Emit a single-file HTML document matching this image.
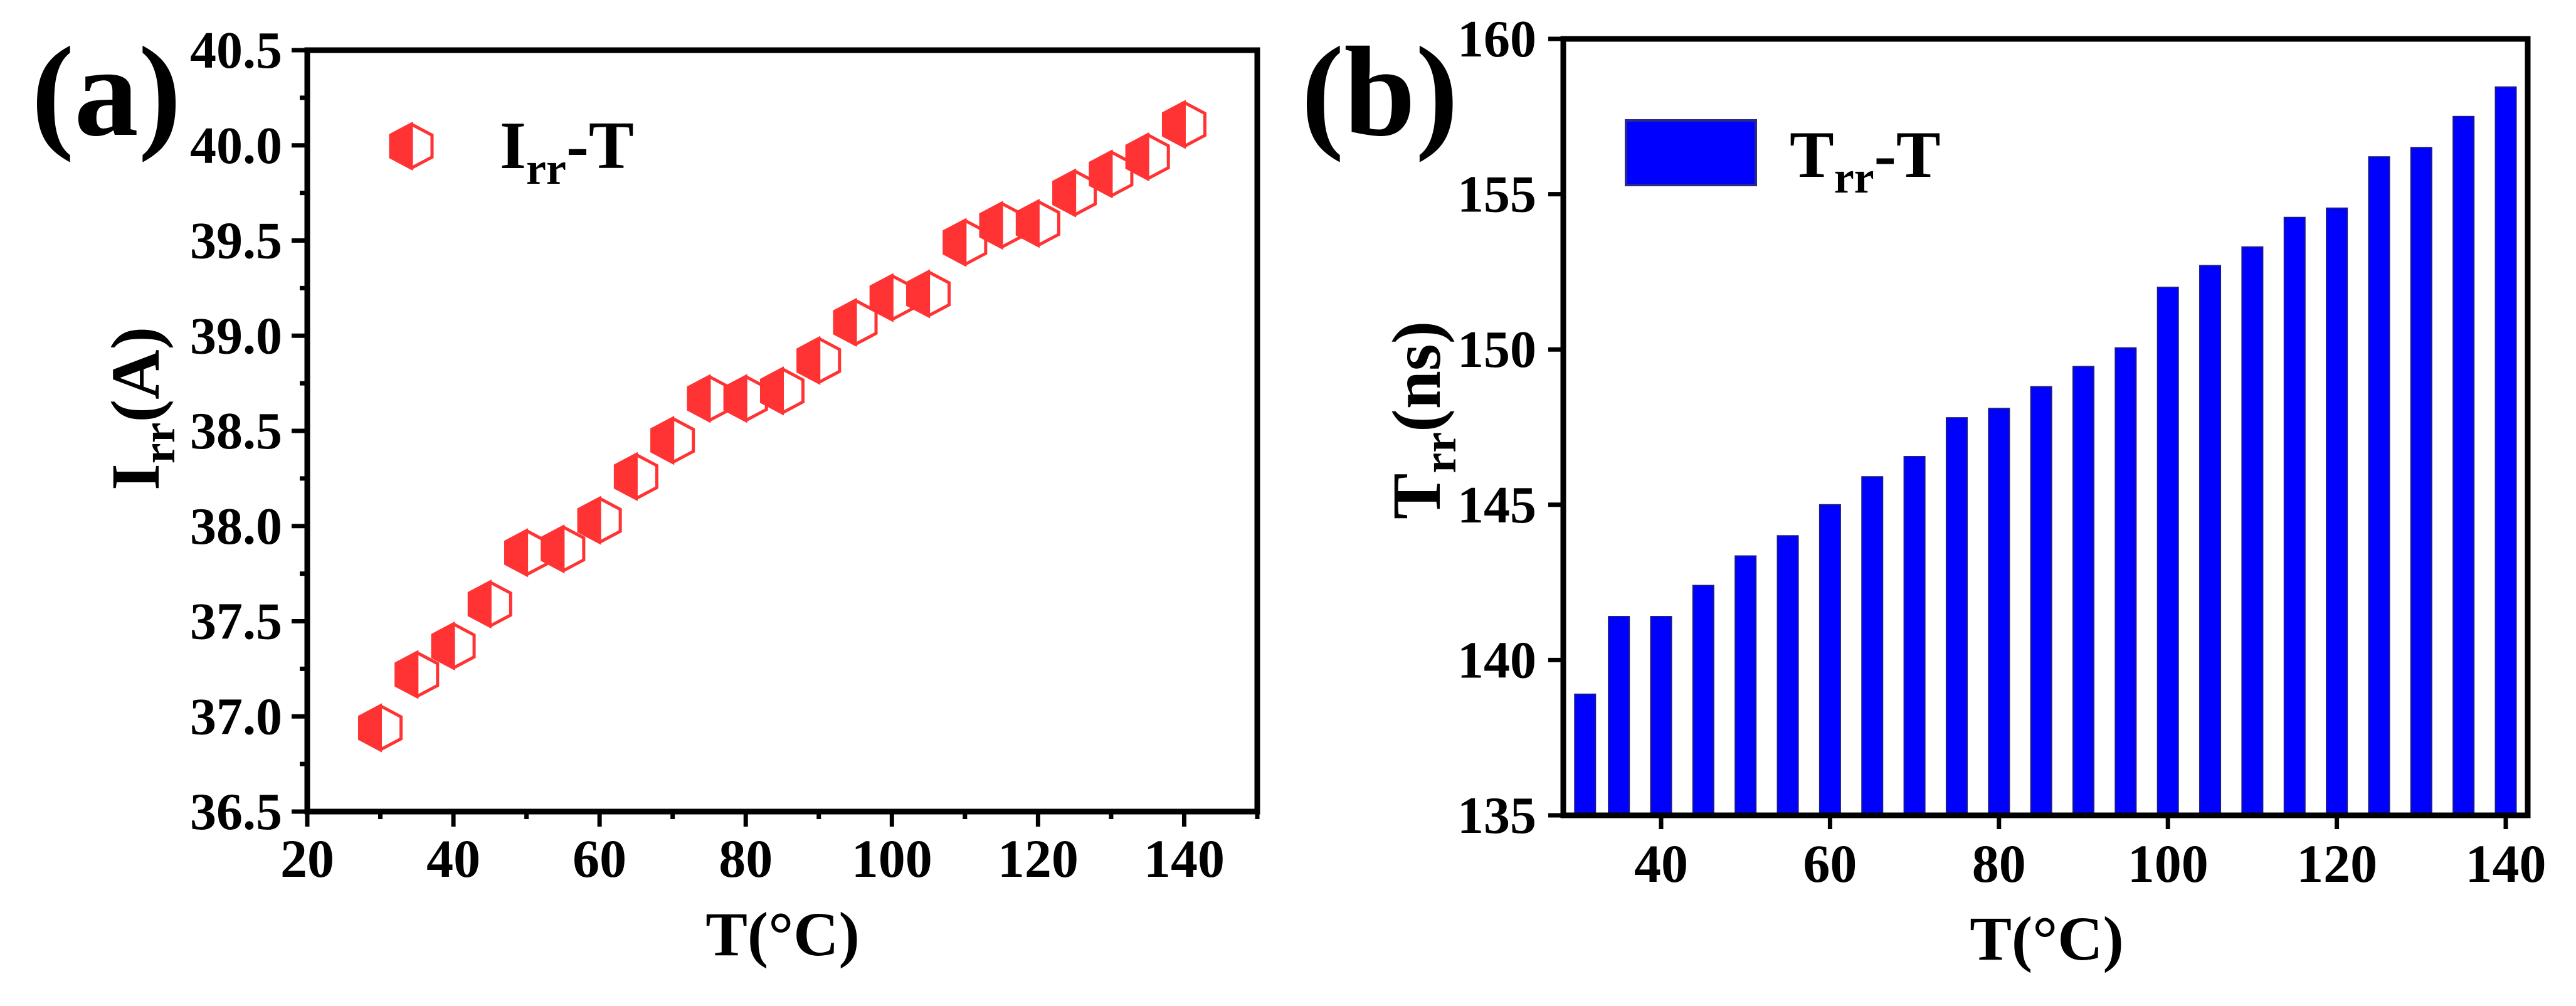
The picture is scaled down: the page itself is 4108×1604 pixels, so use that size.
<!DOCTYPE html>
<html><head><meta charset="utf-8">
<style>
html,body{margin:0;padding:0;background:#fff;}
svg{display:block;}
svg text{font-family:"Liberation Serif","Times New Roman",serif;font-weight:bold;}
</style></head>
<body>
<svg id="chart" width="4108" height="1604" viewBox="0 0 4108 1604" xmlns="http://www.w3.org/2000/svg" font-family="Liberation Serif, serif" font-weight="bold">
<text x="50" y="215" font-size="205" font-family="Liberation Serif, serif">(a)</text>
<text x="2075" y="215" font-size="205" font-family="Liberation Serif, serif">(b)</text>
<g id="pa"></g>
<g id="pb"></g>
</svg>
<script>
const tempA = [30,35,40,45,50,55,60,65,70,75,80,85,90,95,100,105,110,115,120,125,130,135,140];
const irrA = [36.94,37.22,37.37,37.59,37.86,37.88,38.03,38.26,38.45,38.67,38.67,38.71,38.87,39.07,39.20,39.22,39.49,39.58,39.59,39.75,39.85,39.94,40.11];
const xTicksA = [20,40,60,80,100,120,140];
const yTicksA = ["36.5","37.0","37.5","38.0","38.5","39.0","39.5","40.0","40.5"];
const tempB = [31,35,40,45,50,55,60,65,70,75,80,85,90,95,100,105,110,115,120,125,130,135,140];
const trrB = [138.9,141.4,141.4,142.4,143.35,144.0,145.0,145.9,146.55,147.8,148.1,148.8,149.45,150.05,152.0,152.7,153.3,154.25,154.55,156.2,156.5,157.5,158.45];
const xTicksB = [40,60,80,100,120,140];
const yTicksB = [135,140,145,150,155,160];

const NS = "http://www.w3.org/2000/svg";
function mk(parent, tag, attrs){const e=document.createElementNS(NS,tag);for(const k in attrs)e.setAttribute(k,attrs[k]);if(tag==='text'){e.setAttribute('font-family','Liberation Serif, serif');e.setAttribute('font-weight','bold');}parent.appendChild(e);return e;}

const AX0=490, AX1=2005, AY0=1294, AY1=80;
const xa = v => AX0 + (v-20)/(150-20)*(AX1-AX0);
const ya = v => AY0 - (v-36.5)/(40.5-36.5)*(AY0-AY1);
const pa = document.getElementById('pa');

for(let v=20; v<=150; v+=10){
  const major = xTicksA.includes(v);
  const t = mk(pa,'line',{x1:xa(v),x2:xa(v),y1:AY0,y2:AY0+(major?24:12),stroke:'#000','stroke-width':7});
  
  
}
xTicksA.forEach(v=>{
  const t=mk(pa,'text',{x:xa(v),y:1398,'font-size':86,'text-anchor':'middle'});
  t.textContent=v;
  
  
});
for(let i=0;i<=16;i++){
  const v=36.5+i*0.25, major=i%2===0;
  const t=mk(pa,'line',{x1:AX0,x2:AX0-(major?25:12),y1:ya(v),y2:ya(v),stroke:'#000','stroke-width':7});
  
  
}
yTicksA.forEach(s=>{
  const t=mk(pa,'text',{x:450,y:ya(parseFloat(s))+28,'font-size':84,'text-anchor':'end'});
  t.textContent=s;
  
  
});
const frA=mk(pa,'rect',{x:AX0,y:AY1,width:AX1-AX0,height:AY0-AY1,fill:'none',stroke:'#000','stroke-width':9});



function hexMarker(parent,cx,cy){
  const w=33,h=35;
  const g=mk(parent,'g',{});
  mk(g,'polygon',{points:`${cx},${cy-h} ${cx+w},${cy-h/2} ${cx+w},${cy+h/2} ${cx},${cy+h} ${cx-w},${cy+h/2} ${cx-w},${cy-h/2}`,fill:'#fff',stroke:'#ff3333','stroke-width':5});
  mk(g,'polygon',{points:`${cx},${cy-h} ${cx},${cy+h} ${cx-w},${cy+h/2} ${cx-w},${cy-h/2}`,fill:'#ff3333',stroke:'#ff3333','stroke-width':5});
  return g;
}
tempA.forEach((t,i)=>{
  const g=hexMarker(pa,xa(t),ya(irrA[i]));
  
  
});
const lgA=hexMarker(pa,656,233);


const ltA=mk(pa,'text',{x:797,y:268,'font-size':108});
ltA.innerHTML='I<tspan font-size="72" dy="25">rr</tspan><tspan dy="-25">-T</tspan>';


const ytA=mk(pa,'text',{x:0,y:0,'font-size':110,transform:'translate(253,782) rotate(-90)'});
ytA.innerHTML='I<tspan font-size="74" dy="25">rr</tspan><tspan dy="-25">(A)</tspan>';


const xtA=mk(pa,'text',{x:1248,y:1523,'font-size':100,'text-anchor':'middle'});
xtA.textContent='T(°C)';



const BX0=2493, BX1=4031, BY0=1300, BY1=62;
const xb = v => 2649 + (v-40)*13.47;
const yb = v => BY0 - (v-135)/(160-135)*(BY0-BY1);
const pb=document.getElementById('pb');
tempB.forEach((t,i)=>{
  const r=mk(pb,'rect',{x:xb(t)-16.5,y:yb(trrB[i]),width:33,height:BY0-yb(trrB[i]),fill:'#0000ff',stroke:'#1a1a8c','stroke-width':2});
  
  
});
xTicksB.forEach(v=>{
  const t=mk(pb,'line',{x1:xb(v),x2:xb(v),y1:BY0,y2:BY0+22,stroke:'#000','stroke-width':7});
  
  
  const l=mk(pb,'text',{x:xb(v),y:1406,'font-size':86,'text-anchor':'middle'});
  l.textContent=v;
  
  
});
yTicksB.forEach(v=>{
  const t=mk(pb,'line',{x1:BX0,x2:BX0-24,y1:yb(v),y2:yb(v),stroke:'#000','stroke-width':7});
  
  
  const l=mk(pb,'text',{x:2450,y:yb(v)+28,'font-size':84,'text-anchor':'end'});
  l.textContent=v;
  
  
});
const frB=mk(pb,'rect',{x:BX0,y:BY1,width:BX1-BX0,height:BY0-BY1,fill:'none',stroke:'#000','stroke-width':9});


const lgB=mk(pb,'rect',{x:2593,y:192,width:207,height:103,fill:'#0000ff',stroke:'#2a2a8c','stroke-width':4});


const ltB=mk(pb,'text',{x:2854,y:282,'font-size':106});
ltB.innerHTML='T<tspan font-size="72" dy="25">rr</tspan><tspan dy="-25">-T</tspan>';


const ytB=mk(pb,'text',{x:0,y:0,'font-size':110,transform:'translate(2296,828) rotate(-90)'});
ytB.innerHTML='T<tspan font-size="74" dy="25">rr</tspan><tspan dy="-25">(ns)</tspan>';


const xtB=mk(pb,'text',{x:3264,y:1530,'font-size':100,'text-anchor':'middle'});
xtB.textContent='T(°C)';


</script>
</body></html>
